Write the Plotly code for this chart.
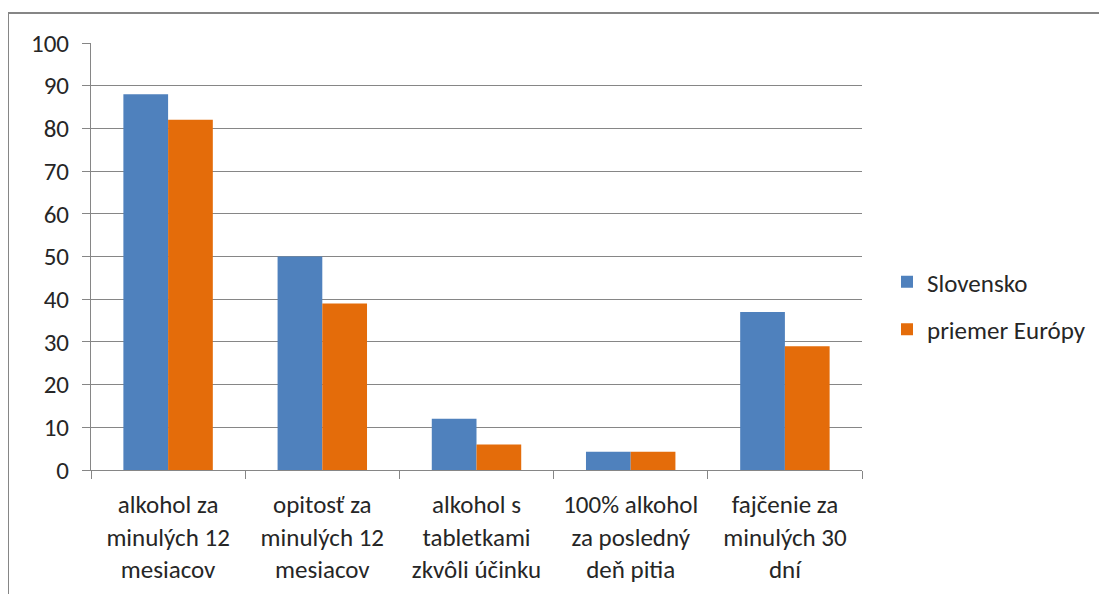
import plotly.graph_objects as go

categories = [
    "alkohol za<br>minulých 12<br>mesiacov",
    "opitosť za<br>minulých 12<br>mesiacov",
    "alkohol s<br>tabletkami<br>zkvôli účinku",
    "100% alkohol<br>za posledný<br>deň pitia",
    "fajčenie za<br>minulých 30<br>dní",
]
slovensko = [88, 50, 12, 4.3, 37]
europa = [82, 39, 6, 4.3, 29]
y_ticks = list(range(0, 101, 10))

FONT = "Carlito, Lato, sans-serif"
GRAY = "#868686"
TXT = "#262626"
FS = 25

fig = go.Figure()
fig.add_trace(go.Bar(name="Slovensko", x=categories, y=slovensko,
                     marker=dict(color="#4F81BD", line=dict(width=0)), legendgroup="a"))
fig.add_trace(go.Bar(name="priemer Európy", x=categories, y=europa,
                     marker=dict(color="#E46C0A", line=dict(width=0)), legendgroup="b"))

# page body has an 8px margin; work in page pixels minus 8
OFF = 8
W, H = 1107 - OFF, 594 - OFF
L, R, T, B = 91 - OFF, 862 - OFF, 43 - OFF, 470 - OFF
pw, ph = R - L, B - T

def px_x(p):
    return (p - OFF - L) / pw

def px_y(p):
    return (B - (p - OFF)) / ph

fig.update_layout(
    width=W, height=H,
    margin=dict(l=L, r=W - R, t=T, b=H - B, pad=0, autoexpand=False),
    paper_bgcolor="white", plot_bgcolor="white",
    barmode="group", bargap=0.42, bargroupgap=0,
    font=dict(family=FONT, size=FS, color=TXT),
    showlegend=True,
    legend=dict(x=px_x(887), y=px_y(259), xanchor="left", yanchor="top",
                font=dict(family=FONT, size=FS, color=TXT),
                tracegroupgap=12, bgcolor="rgba(0,0,0,0)", itemwidth=30),
    xaxis=dict(showline=True, linecolor=GRAY, linewidth=1, ticks="outside",
               tickson="boundaries", ticklen=8, tickcolor=GRAY, showgrid=False,
               tickfont=dict(family=FONT, size=FS, color=TXT), fixedrange=True,
               ticklabelstandoff=12, automargin=False),
    yaxis=dict(range=[0, 100], tickvals=y_ticks, showline=True, linecolor=GRAY,
               linewidth=1, ticks="outside", ticklen=8, tickcolor=GRAY,
               showgrid=True, gridcolor=GRAY, gridwidth=1, zeroline=False,
               tickfont=dict(family=FONT, size=FS, color=TXT), ticklabelstandoff=8,
               automargin=False),
    shapes=[
        dict(type="line", xref="paper", yref="paper", x0=px_x(8), x1=px_x(1130),
             y0=px_y(13), y1=px_y(13), line=dict(color=GRAY, width=2)),
        dict(type="line", xref="paper", yref="paper", x0=px_x(8), x1=px_x(8),
             y0=px_y(13), y1=px_y(620), line=dict(color=GRAY, width=2)),
    ],
)

fig.write_html("out.html")
